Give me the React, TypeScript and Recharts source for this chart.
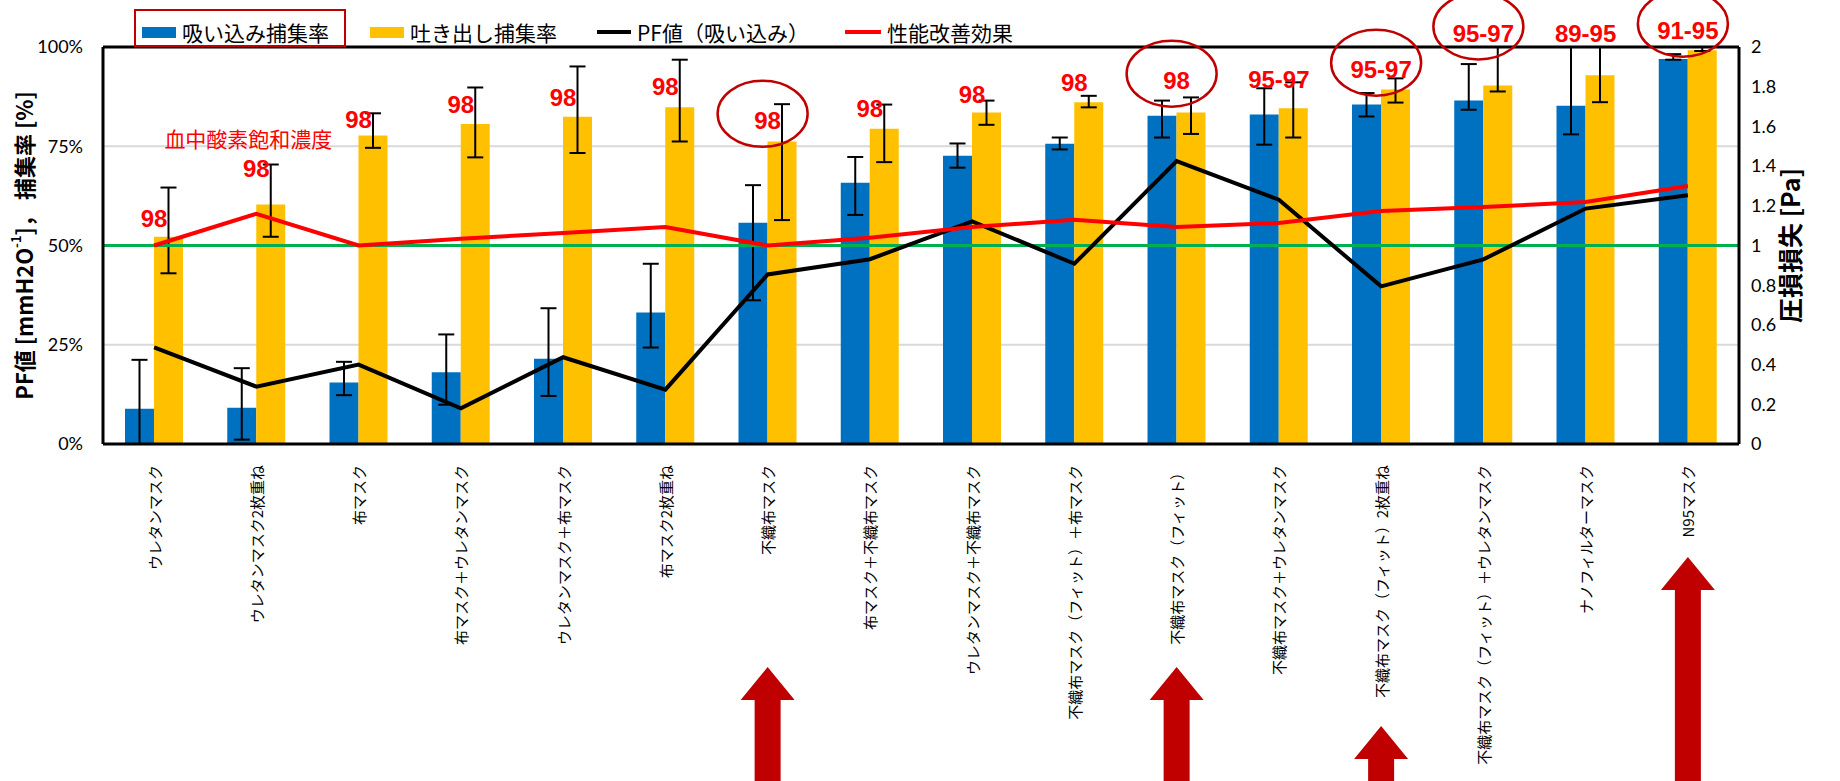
import React from "react";
import {
  Bar,
  Line,
  XAxis,
  YAxis,
  ErrorBar,
  ComposedChart,
  CartesianGrid,
  ReferenceDot,
  ReferenceLine,
} from "recharts";

// マスク種類
const categories = [
  "ウレタンマスク",
  "ウレタンマスク2枚重ね",
  "布マスク",
  "布マスク＋ウレタンマスク",
  "ウレタンマスク＋布マスク",
  "布マスク2枚重ね",
  "不織布マスク",
  "布マスク＋不織布マスク",
  "ウレタンマスク＋不織布マスク",
  "不織布マスク（フィット）＋布マスク",
  "不織布マスク（フィット）",
  "不織布マスク＋ウレタンマスク",
  "不織布マスク（フィット）2枚重ね",
  "不織布マスク（フィット）＋ウレタンマスク",
  "ナノフィルターマスク",
  "N95マスク",
];

// 吸い込み捕集率 [%] と誤差 [下, 上]
const inhaleRate = [8.9, 9.1, 15.5, 18.1, 21.5, 33.1, 55.7, 65.8, 72.6, 75.6, 82.7, 83.0, 85.5, 86.5, 85.2, 97.0];
const inhaleErr = [
  [8.9, 12.3], [8.0, 10.0], [3.2, 5.2], [8.2, 9.5], [9.4, 12.7], [8.8, 12.3], [19.5, 9.5], [8.1, 6.5],
  [3.0, 3.1], [1.4, 1.6], [5.5, 3.8], [7.6, 6.6], [3.0, 2.9], [2.3, 9.2], [7.2, 14.8], [0.2, 1.2],
];

// 吐き出し捕集率 [%] と誤差 [下, 上]
const exhaleRate = [52.2, 60.3, 77.7, 80.6, 82.4, 84.8, 76.2, 79.4, 83.5, 86.1, 83.5, 84.6, 89.3, 90.3, 92.9, 99.2];
const exhaleErr = [
  [9.2, 12.4], [8.1, 10.1], [3.1, 5.6], [8.4, 9.2], [9.1, 12.7], [8.6, 12.0], [19.8, 9.4], [8.4, 6.1],
  [3.1, 3.0], [1.3, 1.6], [5.4, 3.8], [7.4, 6.5], [3.3, 2.8], [1.5, 9.7], [6.8, 7.1], [0.2, 0.8],
];

// PF値（吸い込み）, 性能改善効果 (右軸)
const pfValue = [0.487, 0.289, 0.4, 0.18, 0.437, 0.274, 0.854, 0.931, 1.122, 0.908, 1.425, 1.231, 0.794, 0.93, 1.186, 1.253];
const improvement = [1.0, 1.16, 1.0, 1.034, 1.063, 1.093, 1.0, 1.039, 1.093, 1.13, 1.093, 1.113, 1.174, 1.194, 1.219, 1.3];

// 血中酸素飽和濃度の注記 (左軸の高さ [%])
const spo2Text = ["98", "98", "98", "98", "98", "98", "98", "98", "98", "98", "98", "95-97", "95-97", "95-97", "89-95", "91-95"];
const spo2Level = [56.7, 69.3, 81.7, 85.5, 87.2, 90.0, 81.4, 84.5, 88.0, 91.0, 91.5, 91.8, 94.3, 103.4, 103.4, 104.1];
const spo2Circled = [false, false, false, false, false, false, true, false, false, false, true, false, true, true, false, true];

const leftTicks = [0, 25, 50, 75, 100];
const rightTicks = [0, 0.2, 0.4, 0.6, 0.8, 1, 1.2, 1.4, 1.6, 1.8, 2];

const data = categories.map((name, i) => ({
  name,
  inhale: inhaleRate[i],
  inhaleErr: inhaleErr[i],
  exhale: exhaleRate[i],
  exhaleErr: exhaleErr[i],
  pf: pfValue[i],
  effect: improvement[i],
}));

const BLUE = "#0070C0";
const ORANGE = "#FFC000";
const DARK_RED = "#C00000";
const JP = "'Noto Sans CJK JP', 'Noto Sans', sans-serif";
const NUM = "Lato, 'Noto Sans', sans-serif";

// 矢印の上端 (x軸からの距離, px)
const ARROW_TOP: Record<string, number> = {
  "不織布マスク": 221,
  "不織布マスク（フィット）": 221,
  "不織布マスク（フィット）2枚重ね": 280,
  "N95マスク": 111,
};

function CategoryTick({ x, y, payload }: any) {
  const name = payload.value as string;
  const ty = y + 19;
  const top = ARROW_TOP[name];
  const bottom = y + 340;
  return (
    <g>
      <text
        x={x}
        y={ty}
        transform={`rotate(-90, ${x}, ${ty})`}
        textAnchor="end"
        dominantBaseline="central"
        fontSize={15}
        fontFamily={JP}
        fill="#000"
      >
        {name}
      </text>
      {top !== undefined && (
        <polygon
          fill={DARK_RED}
          points={`${x},${y + top} ${x + 27},${y + top + 33} ${x + 13},${y + top + 33} ${x + 13},${bottom} ${x - 13},${bottom} ${x - 13},${y + top + 33} ${x - 27},${y + top + 33}`}
        />
      )}
    </g>
  );
}

const annotationShape = (i: number) => (p: any) => (
  <g>
    {spo2Circled[i] && (
      <ellipse cx={p.cx - 5} cy={p.cy - 7} rx={45} ry={33} fill="none" stroke={DARK_RED} strokeWidth={2.5} />
    )}
    <text
      x={p.cx}
      y={p.cy}
      textAnchor="middle"
      dominantBaseline="central"
      fontSize={24}
      fontWeight="bold"
      fontFamily="'Liberation Sans Narrow', 'Liberation Sans', Arial, sans-serif"
      fill="#FF0000"
    >
      {spo2Text[i]}
    </text>
  </g>
);

function LeftTitle({ viewBox }: any) {
  const x = viewBox.x - 22;
  const y = viewBox.y + viewBox.height / 2;
  return (
    <text
      x={x}
      y={y}
      transform={`rotate(-90, ${x}, ${y})`}
      textAnchor="middle"
      dominantBaseline="central"
      fontSize={22}
      fontWeight="bold"
      fontFamily={JP}
      fill="#000"
    >
      PF値 [mmH2O
      <tspan dy={-8} fontSize={13}>-1</tspan>
      <tspan dy={8}>]， 捕集率 [%]</tspan>
    </text>
  );
}

function RightTitle({ viewBox }: any) {
  const x = viewBox.x + 50;
  const y = viewBox.y + viewBox.height / 2;
  return (
    <text
      x={x}
      y={y}
      transform={`rotate(-90, ${x}, ${y})`}
      textAnchor="middle"
      dominantBaseline="central"
      fontSize={25}
      fontWeight="bold"
      fontFamily={JP}
      fill="#000"
    >
      圧損損失 [Pa]
    </text>
  );
}

function LegendBlock() {
  const text = { fontSize: 21, fontFamily: JP, color: "#000", whiteSpace: "nowrap" as const };
  const item = (left: number, swatch: React.ReactNode, label: string) => (
    <div style={{ position: "absolute", left, top: 17, display: "flex", alignItems: "center", gap: 6 }}>
      {swatch}
      <span style={text}>{label}</span>
    </div>
  );
  return (
    <>
      <div
        style={{
          position: "absolute",
          left: 134,
          top: 9,
          width: 208,
          height: 34,
          border: `2.5px solid ${DARK_RED}`,
        }}
      />
      {item(142, <div style={{ width: 34, height: 11, background: BLUE }} />, "吸い込み捕集率")}
      {item(370, <div style={{ width: 34, height: 11, background: ORANGE }} />, "吐き出し捕集率")}
      {item(597, <div style={{ width: 34, height: 4, background: "#000" }} />, "PF値（吸い込み）")}
      {item(845, <div style={{ width: 36, height: 4, background: "#FF0000" }} />, "性能改善効果")}
    </>
  );
}

export default function App() {
  return (
    <div style={{ position: "relative", width: 1840, height: 781, background: "#fff" }}>
      <style>{"body{margin:0}"}</style>
      <ComposedChart
        width={1840}
        height={781}
        data={data}
        barGap={0}
        margin={{ top: 47, right: 45, left: 45, bottom: 0 }}
      >
        <CartesianGrid yAxisId="left" vertical={false} stroke="#D9D9D9" strokeWidth={2} />
        <XAxis
          dataKey="name"
          interval={0}
          height={337}
          tick={<CategoryTick />}
          tickLine={false}
          tickSize={0}
          axisLine={{ stroke: "#000", strokeWidth: 3 }}
        />
        <YAxis
          yAxisId="left"
          width={58}
          domain={[0, 100]}
          ticks={leftTicks}
          tickFormatter={(v) => `${v}%`}
          tickLine={false}
          tickSize={0}
          tickMargin={20}
          axisLine={{ stroke: "#000", strokeWidth: 3 }}
          tick={{ fontSize: 18, fontFamily: NUM, fill: "#000" }}
          label={{ content: (p: any) => <LeftTitle viewBox={p.viewBox} /> }}
        />
        <YAxis
          yAxisId="right"
          orientation="right"
          width={56}
          domain={[0, 2]}
          ticks={rightTicks}
          tickLine={false}
          tickSize={0}
          tickMargin={12}
          axisLine={{ stroke: "#000", strokeWidth: 3 }}
          tick={{ fontSize: 18, fontFamily: NUM, fill: "#000" }}
          label={{ content: (p: any) => <RightTitle viewBox={p.viewBox} /> }}
        />
        <Bar yAxisId="left" dataKey="inhale" fill={BLUE} barSize={29} isAnimationActive={false}>
          <ErrorBar dataKey="inhaleErr" width={8} strokeWidth={2} stroke="#000" direction="y" isAnimationActive={false} />
        </Bar>
        <Bar yAxisId="left" dataKey="exhale" fill={ORANGE} barSize={29} isAnimationActive={false}>
          <ErrorBar dataKey="exhaleErr" width={8} strokeWidth={2} stroke="#000" direction="y" isAnimationActive={false} />
        </Bar>
        <ReferenceLine yAxisId="left" y={100} stroke="#000" strokeWidth={3} />
        <ReferenceLine yAxisId="right" y={1} stroke="#00B050" strokeWidth={3} />
        <Line
          yAxisId="right"
          type="linear"
          dataKey="pf"
          stroke="#000"
          strokeWidth={4}
          dot={false}
          isAnimationActive={false}
        />
        <Line
          yAxisId="right"
          type="linear"
          dataKey="effect"
          stroke="#FF0000"
          strokeWidth={4}
          dot={false}
          isAnimationActive={false}
        />
        <ReferenceDot
          yAxisId="left"
          x={categories[1]}
          y={77.2}
          r={0}
          ifOverflow="visible"
          shape={(p: any) => (
            <text
              x={p.cx - 8}
              y={p.cy}
              textAnchor="middle"
              dominantBaseline="central"
              fontSize={21}
              fontFamily={JP}
              fill="#FF0000"
            >
              血中酸素飽和濃度
            </text>
          )}
        />
        {categories.map((c, i) => (
          <ReferenceDot
            key={c}
            yAxisId="left"
            x={c}
            y={spo2Level[i]}
            r={0}
            ifOverflow="visible"
            shape={annotationShape(i)}
          />
        ))}
      </ComposedChart>
      <LegendBlock />
    </div>
  );
}
